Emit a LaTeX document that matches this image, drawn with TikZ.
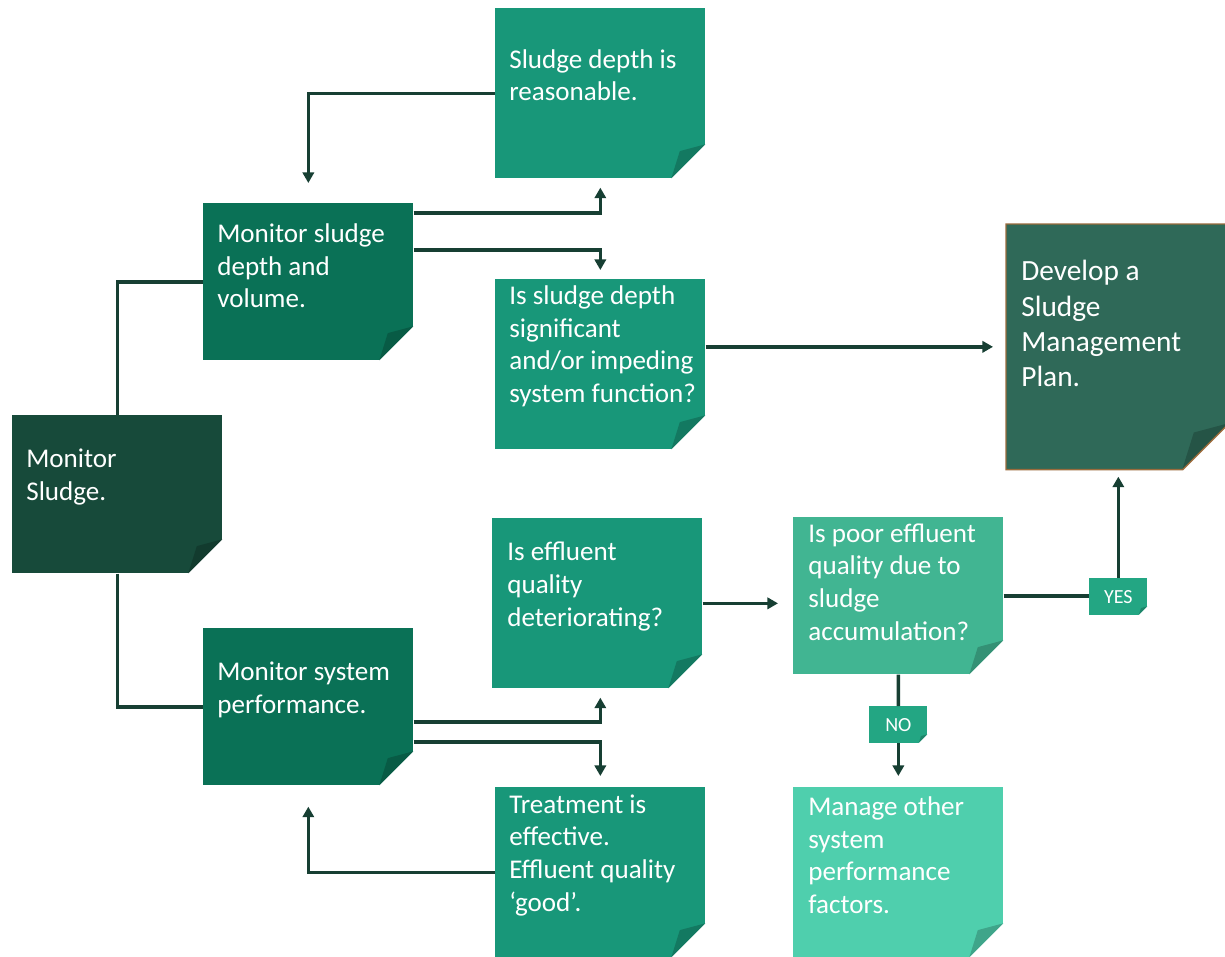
\documentclass[tikz,border=0pt]{standalone}
\usepackage{fontspec}
\setmainfont{Carlito}
\usetikzlibrary{arrows.meta,calc}

\definecolor{linegreen}{HTML}{173F33}
\definecolor{sludgegreen}{HTML}{174A3A}
\definecolor{monitorgreen}{HTML}{0A7156}
\definecolor{checkgreen}{HTML}{189779}
\definecolor{causegreen}{HTML}{41B592}
\definecolor{othergreen}{HTML}{4FCFAD}
\definecolor{plangreen}{HTML}{2F6958}
\definecolor{planrim}{HTML}{9A6B3C}
\definecolor{taggreen}{HTML}{23A683}

\tikzset{
  notefold/.store in=\notefold,
  notefold=0.68cm,
  foldof/.code={\colorlet{foldcol}{#1!80!black}},
  note/.style={anchor=north west, inner sep=0pt, fill=#1, foldof=#1,
    path picture={
      \fill[white] (path picture bounding box.south east) -- ++(-\notefold,0) -- ++(\notefold,\notefold) -- cycle;
      \fill[foldcol] ([yshift=\notefold]path picture bounding box.south east)
        -- ([shift={(-0.75*\notefold,0.8*\notefold)}]path picture bounding box.south east)
        -- ([xshift=-\notefold]path picture bounding box.south east) -- cycle;
    }},
  notetext/.style={anchor=west, inner sep=0pt, align=left, text=white, font=\fontsize{15.4}{18.6}\selectfont},
  tag/.style={note=taggreen, notefold=0.17cm, minimum width=1.16cm, minimum height=0.73cm,
    text=white, font=\fontsize{11.4}{13}\selectfont},
  flow/.style={draw=linegreen, line width=2pt},
  go/.style={flow, -{Triangle[length=6pt,width=6.4pt]}, shorten >=#1},
  go/.default=0.18cm,
}

\begin{document}
\begin{tikzpicture}[x=0.02cm, y=-0.02cm]
  \fill[white] (0,0) rectangle (1225,957);
  \useasboundingbox (0,0) rectangle (1225,957);

  \node[note=sludgegreen, minimum width=4.2cm, minimum height=3.16cm] (sludge) at (12,415) {};
  \node[note=monitorgreen, minimum width=4.2cm, minimum height=3.14cm] (depth) at (203,203) {};
  \node[note=monitorgreen, minimum width=4.2cm, minimum height=3.14cm] (system) at (203,628) {};
  \node[note=checkgreen, minimum width=4.2cm, minimum height=3.4cm] (reas) at (495,8) {};
  \node[note=checkgreen, minimum width=4.2cm, minimum height=3.4cm] (sig) at (495,279) {};
  \node[note=checkgreen, minimum width=4.2cm, minimum height=3.4cm] (eff) at (492,518) {};
  \node[note=checkgreen, minimum width=4.2cm, minimum height=3.4cm] (treat) at (495,787) {};
  \node[note=causegreen, minimum width=4.2cm, minimum height=3.14cm] (poor) at (793,517) {};
  \node[note=othergreen, minimum width=4.2cm, minimum height=3.4cm] (manage) at (793,787) {};
  \node[note=plangreen, notefold=0.92cm, minimum width=4.44cm, minimum height=4.9cm] (plan) at (1006,224) {};
  \draw[planrim, line width=0.8pt] (plan.north west) -- (plan.north east) -- ([yshift=0.92cm]plan.south east)
    -- ([xshift=-0.92cm]plan.south east) -- (plan.south west) -- cycle;
  \node[tag] (yes) at (1089,578) {YES};
  \node[tag] (no) at (869,706) {NO};

  \node[notetext] (sludge-t) at ([shift={(14,-17)}]sludge.west) {Monitor\\Sludge.};
  \node[notetext] (depth-t) at ([shift={(14,-16)}]depth.west) {Monitor sludge\\depth and\\volume.};
  \node[notetext] (system-t) at ([shift={(14,-17)}]system.west) {Monitor system\\performance.};
  \node[notetext] (reas-t) at ([shift={(14,-18)}]reas.west) {Sludge depth is\\reasonable.};
  \node[notetext] (sig-t) at ([shift={(14,-18)}]sig.west) {Is sludge depth\\significant\\and/or impeding\\system function?};
  \node[notetext] (eff-t) at ([shift={(15,-17)}]eff.west) {Is effluent\\quality\\deteriorating?};
  \node[notetext] (treat-t) at ([shift={(14,-17)}]treat.west) {Treatment is\\effective.\\Effluent quality\\‘good’.};
  \node[notetext] (poor-t) at ([shift={(15,-14)}]poor.west) {Is poor effluent\\quality due to\\sludge\\accumulation?};
  \node[notetext] (manage-t) at ([shift={(15,-17)}]manage.west) {Manage other\\system\\performance\\factors.};
  \node[notetext, font=\fontsize{16.7}{20.1}\selectfont] (plan-t) at ([shift={(15,-23)}]plan.west) {Develop a\\Sludge\\Management\\Plan.};

  \draw[flow] (sludge.north) |- (depth.west);
  \draw[flow] (sludge.south) |- (system.west);
  \draw[go] ([yshift=-0.2cm]depth.north east) -| (reas.south);
  \draw[go] ([yshift=-0.94cm]depth.north east) -| (sig.north);
  \draw[go=0.4cm] (reas.west) -| (depth.north);
  \draw[go=0.26cm] (sig.east |- plan.west) -- (plan.west);
  \draw[go] ([yshift=-1.88cm]system.north east) -| (treat.north |- eff.south);
  \draw[go=0.22cm] ([yshift=-2.28cm]system.north east) -| (treat.north);
  \draw[go=0.42cm] (treat.west) -| (system.south);
  \draw[go=0.3cm] (eff.east) -- (poor.west |- eff.east);
  \draw[flow] (poor.east) -- (poor.east -| yes.west);
  \draw[go=0.14cm] (yes.north) -- (yes.north |- plan.south);
  \draw[flow] (poor.south) -- (no.north);
  \draw[go=0.22cm] (no.south) -- (no.south |- manage.north);
\end{tikzpicture}
\end{document}
